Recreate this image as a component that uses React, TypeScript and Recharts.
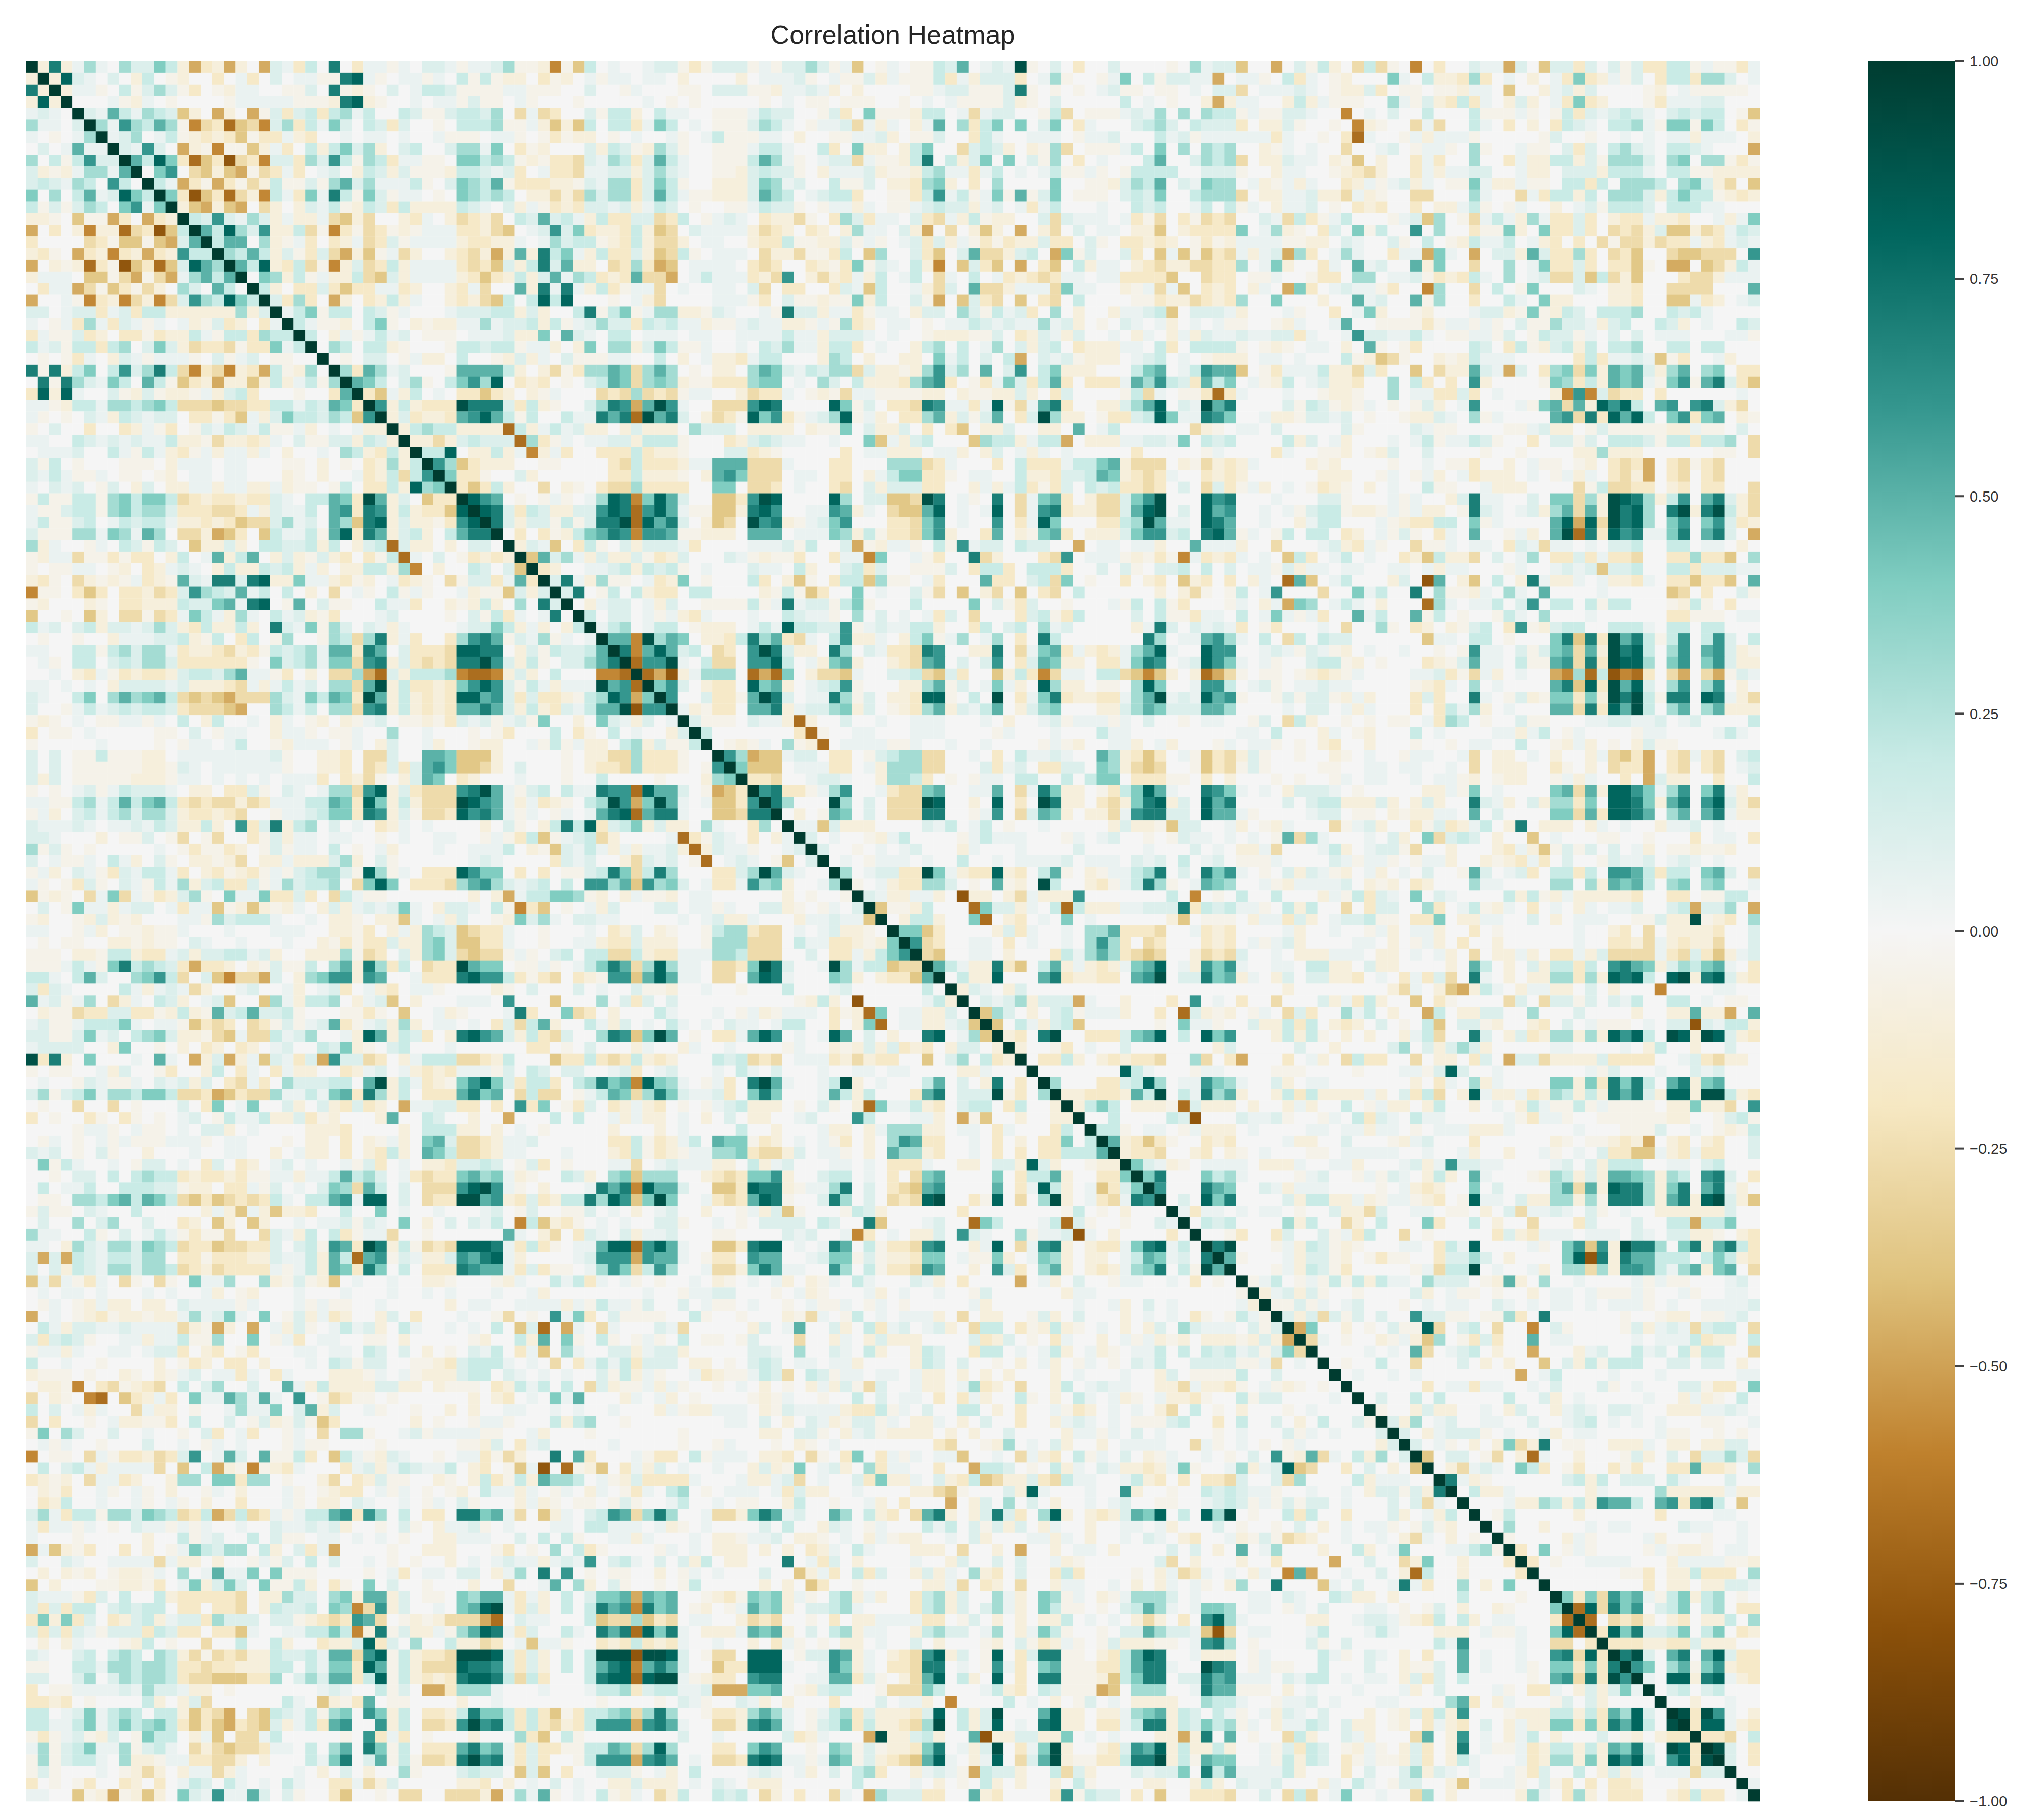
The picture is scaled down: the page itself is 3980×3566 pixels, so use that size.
import { ScatterChart, Scatter, XAxis, YAxis, ComposedChart, Bar } from "recharts";

// one letter per cell. only the upper triangle is listed, the matrix is symmetric
const LEVELS: Record<string, number> = {
  ".": 0, a: 0.05, b: 0.11, c: 0.19, d: 0.3, e: 0.4, f: 0.5, g: 0.6, h: 0.7, i: 0.8, j: 0.9, k: 1,
  z: -0.05, y: -0.1, x: -0.18, w: -0.27, v: -0.37, u: -0.47, t: -0.58, s: -0.68, r: -0.78, q: -0.9,
};

// rows 0-49, columns right of the diagonal up to 49
const triA = [
  "yhyada.dbbecyuxyuy.ubaxc.h.xaaza.bbazaabdzzytzvc.",
  "yiba.b.yc.zy..x.ax.b.aazzhiaz.aaza.czczyy.xzy.az",
  "yaaz.czbdbzx.zyaa..zzb.hzyz.b.accbzzzzaazzz..b.",
  "...azya.z....zaaaaazzzyhiyz..a.aazbzz.az...z..",
  "bafcadcbvy.uy.uzbxbcxcdac..cbzzbccbd.wawx..bz",
  "dagdcfdztwxsvwtbdxcaeb.cbxb..z.cccdzzayvyvc.",
  "abd.aczyxyxvzxxayx..a.aa.a..azzz.aaz.zxzyy.",
  "bagb.uyztzzvyax.cycebdy.bc..bddae.xzy...by",
  "fciexsvxrwxtbbxdbgczdcxaazz.eecdczyzxxwba",
  ".eg.wvyvuzwxax.ab.ycbybzzzyccbabx.axxwaa",
  "cauxzuxzwyczzbzdfbdaaacz.bedcfzxxxyyzba",
  "exrvxswytcaxeahczebzaa.z.edcdc.yywywdb",
  "yvuyvu.wy.ybaczycbxcyyyycba.byazxyxbb",
  "cbgbadbyayyawvyw..yxa.ywxyw.cbfbcayc",
  "fcidbgyycwztxzwxzyzaaaxxywv.abgbexy",
  "cff.dyzax.xyawxbzaaaayxxyya.adbccz",
  "dcfcybzxbwuyvzawy..yxwyuyfyhceayc",
  "fciyxcwztybwxcyaaaaxwxvbychbfyy.",
  ".edyczayycwvbyaaaayxvxycybfadcx",
  "cy.xxbxvxxaaxy..yxaw..fyhahayc",
  "bxdx.uy.xycya..yxywvc.cici...",
  "acezcc.cbza...abbbccyby..chz",
  "cazzy.cez.yzyyaadabbcyczabd",
  "c.yazacab.zzz.aaabyye.fba",
  ".dc.ccyz...zccbcczaay.ye.",
  ".z.bb.zayy.c..zybya.bzzz",
  "dxfdab...zffffcy.ywzxdd",
  "fec.bdz.cegdi.xyx.z.bc",
  "xvayc.a.xxvxy.yza...w",
  "gycyxxxjhhhbxcyz..bd",
  "ybxyyxfgifczc..caah",
  "ycdccyyyyscyacabyy",
  "yywybcbbbsdxza.aa",
  "cci.yycyatyax..x",
  "gdvxyyy..zz....",
  "exxz..by......",
  "xvxcy..w.yz.x",
  "igf.z.zaz.ad",
  "ihbxcbyybbg",
  "hbybbzczbh",
  ".x.xzycef",
  "ybav.xcz",
  "vfbdayb",
  "xy..aa",
  "bhayd",
  "bh.z",
  ".ya",
  "c.",
  "a",
  "",
];

// rows 0-49, columns 50-99
const blockAB = [
  "a..abbzxzbbbzazbbdbzav.za.zzcbf.abajz.b.x..b....z.",
  "aa.aa.y....y.aaabz.azzbyazzzcxaybbbx.adz..zae.czbb",
  ".za...zz.bbbzzyaabay.y....zzabbzzzbhz.z.z.abzz.zz.",
  "...a.z.z.....z.a.zz.zzz..z.a.azzzzbyz.b.....c.a.z.",
  "ccy.caa..zzzacbb..zbx.ezzzycc.awabb..zcw.zzzabad.d",
  "ccxaec.a.zzzbdca.zaabwaya.yaf.dxce.e.be.xa...bcdb.",
  "z.a..az.aczzzaa.y..zzaaby.zzb..xca..aaa.zaab...cab",
  "cbzydbz..zzzacca..cx.eyy.yce..wbcby.yzdw.zzzac.e.d",
  "dcxbfca..zzzcfdaz.abbwazzych.cybe.e.bzd.x.a...cf..",
  "bbybdba..zzybcbbz.yaaabyzzycdaaxac.a.aczzaz.zcccc.",
  "ddxbecz..yyybedab..czzb.yyxdey.x.d....e..zzybdcf.b",
  "ddxbfcazzyyybfdc.abccx..zzxcgaczaezfzbe.zzz.bcbe..",
  "abyacb.z..zzacbbz.zaaya.zzabcbbyab.axac...a..cbc..",
  "xxbbwxc.zaba.xyywz.xdbxaa.bxwayczyy..bwbaaa.axzw.x",
  "yxcyvw.baaaaywxy.xy.ydaa.byu.w.yvy.u.yw.b.aa.yyv.y",
  "yxcywwy.aa..yxxczzyybzaz.abxbyazxzxyybxx.bz.xxyxy.",
  "xxbyvwcz.aaa.wyywzzxc.vd..bxv.bfwwybc.uezb..bx.vav",
  "wxdxuv.aaaa.xwx..xyzxezba.cyt.vbxv.u.xv.cyaa.yxwyy",
  "yxfwwu.acaaaxywg.ywyxayc.ac.wa.c.axyxwxaa.aaxxxxv.",
  "xzaaw.a..aa.bw.xx..xbavc..aywb.fwwyaaaweaa..yzawav",
  "z.ayw....aaazx.bzzyzzeyc..bzu.vbxw.v.xw.c....zzxyy",
  "cezaddyyzba..azhbbyaaxzaa.ybb.dbzcabx.d.y..yaabcv.",
  "bbxcbcaayzzabaayyzazdxy.aa.z.aacbabaadaby.z.ba.ay.",
  "cc.aaa.aa..aaaacaaybbba.a..zyyyzzb.xybayb..a.ya.ya",
  "ddybeczza..a.cbdaayccx.a..ycd.c.ad.bybc.xyyyaa.cx.",
  "aa..c.y.ayyxacc...ydc.y..yy.eac.b.cu.babzyyy.abc.a",
  "fewdfd.z.yy.dfebacbddwbyyzydgbd.f.bg.ceyyy...cef.a",
  "fewdedyzzxxxdee.a.db.cyyyxdfgx.zxaebxcfx.xxxafdgcb",
  "xwdwxwzaa..ywxxa.zyzwaazzzzyy.yzzyyby.xb....zcwa.z",
  "hgufjga..wwwgih....iezb.xxwhgaaxaizwafhx..yybdfi.b",
  "fhsjfhb.ywxziegxzabdizay.xxdfybzbf.xbjdyy.zxxbciea",
  ".ybyyy.dbbb.yyyy.yzze.byyb.x.xv.yyb..yy.f.ac......",
  "bbycccz...xybcbaa..a..evaybc...vdccyaccu.yyyaabbae",
  "xxcxyyz...bbxyz.....x.aayyy.aay.yb.aya.a.....x....",
  "xwcxxxyaafffwwwa...xx...dddwxa...x.cxxxaccefywww.y",
  "xxcyyyz.yfgewww.aa.xx.yaceexxz.aa..cyyxbbcfeyxwxa.",
  "wwdxxxx..ee.wwx.a..xw.bybbbxx..yayacxzxb.cbcxxwx.b",
  "ihteifb..vvxgji....id.bbvvwjh.az.h.waefx.ywwbegj..",
  "ihsgifazzvvyhig..aagfya.wvvfi.a.ai.waghxyywwbfij.b",
  "hjsifhb.yvw.jghyzabeg...xxweg.a..g.xaie...xxcdjfaa",
  "hgtggfzzyyy.fff.aaaedyczxxwegy..xf.yzefx.yyybeggbc",
  ".bybbbax....aaabzc..buzyaaz.czgabb.cbb..u.aa.aay..",
  "yybzxyb...bazyzzx..xaate..azx..hwy...xwg.aaazyzxzt",
  "bcycbcz.a...baa.cy..bcxb..zzzb.xccx.cccx..b.bz.bbc",
  "zz.axye.z...cx.yvz.xccvdzz.ax...fxx.bcwe.z..x.yx.v",
  "c.cyxx.cc....yzczvx..e.a..bzw.v.yw.v.xw.c......y.y",
  "bb.ayb..zzzzczahabbzcez...c....e.bzxb..z...azc.czx",
  "bb.azayxa...a..cbaaz.d.b.a.axb.w...xbczxc....b.czz",
  "cd.acc.zyyy.acaiccbbgzabaaccy..xc.bc.dab.....yahb.",
  "fftjdfe.yyxchdfxwa.cgyya.ycezad.ad.x.hc.......hd.a",
];

// rows 0-49, columns 100-148
const blockAC = [
  "dabbv..u.bzcy.wcwz.t.x..baaub.vbbxb.bzbxxcczazzxa",
  "aau.aaz.cxa.zy...ea.cyyxdx.a.y.axexyazb.xccxddb.a",
  "a.bbw.aaaba.zyybx.zz.zzyaa.v..yabyb....zy.azzzzz.",
  ".yuyaa..ycyazzz..dazbyxcxa.yby.axexy...zxaaabb...",
  ".dcczazzbba..t.a.b..c...czzzaz.zcxbabcba.bcbcc.zv",
  "cbbbx.yybz..z.tyz..waw..ca.x.y.xcba.ccdazeezec.xz",
  "zaaaaaaxa..z.xsa..zayaaaz.....zb..z..a.a.aayaaa.y",
  ".dcd..yza.a..w..ab.zaaz.dz..azz.bxb.cdba.ccba...u",
  "bdcdw.yybaa.yzv.y..xax..d..xayyccybzdddb.de.ddzxz",
  ".bbbz..yaa..zyxwy..xayaabb..ayy.bbbyccca.cczzyyyy",
  "aedd.ayzaya..xyazabya.zzeayyazz.ccxc.dddc.debyw.v",
  "cdddw.yyaabyywayz..ww...da..waxccyc.dddbycecczyxy",
  "ac.cza.yaab.z.xyx..x.yyacz.za..y.abzcccb.cccaa...",
  "zwxw..bawcxzac...zabvd.zwacaydaxxbx.yxxayyx..ayae",
  "xxxxe.adyz.xb.ezc..g.d..xzzey.exxbx.wxwybvvywxacb",
  "zxzyaaaazzyy.ba..bz.c.zycaac.ayx.x.wzwwywxxayxaba",
  "zvxwayabudx.ada..xaauea.u.bbyfbxxdx.wxv..wvvwww.g",
  "wwxxd.aey..xa.fab..fye..w..d.aexxbx.xxvz.uu.vwyca",
  ".wxx.zza..zxx.dd.aabzxyxca.d.abwwbvcwyv...xwwyaaa",
  ".xyx.ya.uex.abaazx..td..w.c.ze...ba.yyx..wwww...f",
  "wxyxd..e...y..fab..fzd..x..ca.eyy...yyx..vvaxy.ab",
  "bbbay...az..x.aey..zy...abbyzezycb.cccd..cbca....",
  "a.azz..zya..af..zzzzxzaazaz.bzzdbbaybc..cby.a..cb",
  "ybaabaabbxa..agbbaaca.zzaazb.zcbbza.b.b.aaa...aaz",
  "ccccz.zyz.aa.y.fz.zx....cb.xczybcyc.ccd..cc.cc...",
  ".zyyy.aa.a...czyvwz..yzycaaa.....xcxaabavzx..ay..",
  "cgffv.zxaaacyywbx..v.wyyfbaub.xdeweyfefbydf.de.xx",
  "xfce.azyc.abyyx..d.cx.x.gy....zedxcyfefazegzfhbxv",
  "zxsxa...a..zyyz..d.aaxxbx.a....ytgtbwxx.x......a.",
  "ajfh....bzcbzyza.z.zby.ag...azefwfyigic.fg.ghbyw",
  "ahge..ayyzbbab.z..zyyba.dza....fgwhxific.egxef.yz",
  "wyz.aa.b.....bz....bazz....zzabyy.zbzzzzzyyazz.b.",
  ".cbc....cyb.ay...a.aczaacbz..x.bbzb.cccbzccxccd.w",
  ".za....xa..zzy.zyb..b....z..z....yydyyy......zz.w",
  "zwyxya....yzy....z..a.zzx..y.azz.zy.xwxu.xwzxw...",
  ".xyxy......yyy..za.zay.axyyy.a.zaya.xwyu.xw.xw...",
  ".wbxzay.a.zxyz.y.a..czz..ayyy....wzcwwxx.yx.xx..w",
  ".igh...a...bbz...aza..ybhaa..b.eewdyjihdycg.fhbyw",
  ".ifg..a.azbcczyyzazayy.zhba.abydfwfyjhid.hjyhjcyw",
  ".ihf..a..yacc...azyxxcc.eza....fiuiwjhid.eg.egbxy",
  ".hifza.zc.cc.xy.azbz.xa.f..zay.fjshxighaaeh.fhb.u",
  "faaay..w...abyxaz..wzza.aa.xbawaa.a.bbc..cc.aa.y.",
  "axyxa.a.vcx.ac.a..xyvcyyw.b.ad.xxbxaxxw..xxdxxv.d",
  ".c.b.aazbyaa.aa..aa.ayaa...za..ababvbbc..ccxbbbaa",
  "yx.x.ya.sfv.ac...yb.rf.yv.c.yhayya.ayyxa.xxvxxv.f",
  "wz.zc.ag...w..eac..h.dzzya.da.f....a.....vw.x..bz",
  "...za.yaued.aca.y...sda.aac.bg.cc.czcc...zycz.x..",
  "xaa.c.aeazax..fac..fzc.z..zca.d...a......xxzzz.aa",
  "babax.zx...a.w..dz.xy.yzbc.xgzybcc..ccca.cc.cc...",
  "afgda.c.wc.cbb......vaa.cc.z...ehvhxjfhczcg.cgb.c",
];

// rows 50-99, columns right of the diagonal up to 99
const triB = [
  "htfifbc.wx.gjhbyy.hd.baxxwhg..yyh.waefxayxyadfia.",
  "sggja.cww.ggic.ayefy..yxwfg.b.bg.xbfeyy.xxaehg.a",
  "suryaddd.suse.ywwva..bbcwvbx..vycxtwaa.ccwvtvy.",
  "egb.yxx.iefy.abcgz...yydfzb.aeay.idyy.zz.die..",
  "g..bxxzfjhb.aahdzb.yyxiiz.c.j.xaehxyyxxadfjab",
  "ayzxx.ffhyabbdeyb.zyxdfybacf.ybde...yybdfebb",
  "bzzz.baaysy..b..a..aaa...a.y..abzaaaza.b..z",
  "c.......xsz..aa...aaa....za...a...caa.....",
  ".zyza.dzys.aaaazza..a..a....zazy..aay.ay.",
  "gduvvabb.xx.zbcddww..a.x.caaba..fdyxvx.a",
  "evvv.aaaxx.aydddww...bxab.xxbb.edywvw..",
  "xxw..abba..yddcx.z.zaa.cc..c.cee.xxxzz",
  "ghxxzadg..axwwef..aaf.waheyy.zxceifa.",
  "hd...jd.b.wwwji..y.i.x.jhyy.xwyehiyb",
  ".y.zfe.b.wwwhh..zag.wbfey.yywaghhbb",
  "aavbyyy....bac.ac.z..a.....ybyyzvb",
  "b.a..zyac....zacaaa...za.ab..z.zb",
  "b..z.a.ab...ya...a....b.....a...",
  ".a.zaaa.a..c..a.aaaab.aaa.bab.c",
  "d.abbxxjeayxxiyx.cfz.yzaacdh.b",
  "z.ayxxddb.z.fzy.jc..yxzachdz.",
  "bayyaay.ryy.ywayyyg.......c.",
  "vzzyc...sebbya.cscyyyaabbbh",
  ".yccy..es.yx.a.e.a......yv",
  "eevx....ybxa..a.ddfxxxw..",
  "gwx..aa.x.a..a.dgdx.wx..",
  "wv..aa.y...xcadfdxwvw..",
  "fcayyhxv.cfyayxyaefi.a",
  ".cyyi...fhxyyxx.fgj.b",
  "yba.yb..............",
  ".babdybbbua..y...x.",
  "vdb.y.bczaaay..x.s",
  "v.caybcv......z.e",
  "yx.hj..xxxbefi.c",
  "y..zx.a..b.....",
  ".xxcy.yxyxxw..",
  ".......ica...",
  "d...xxbcid.a",
  "yyxxxyfcj.c",
  "ycec.yyyzs",
  "..c....cb",
  "ccz.aa.z",
  "fyxvxz.",
  "yxxw..",
  "ebayz",
  "eh..",
  "g..",
  ".b",
  "a",
  "",
];

// rows 50-99, columns 100-148
const blockBC = [
  ".igg..abazbazy.a..a..z.zgaa.bzbefwfyjhic.dg.fgbyz",
  "bigea.az..bcczy.z...xyzbfaa.czzfgwhxjiid.eg.egbyy",
  "ysuwz.zz.zyxyza....aabxzway.a..utdscrtsx.wu.wuzba",
  "aggc.abz.aabaa.....zyxa.d.a....fhvixjfib.dg.dg.y.",
  "aifgz..zbzbbzyay...xbx..ha.zbyzeexeyjhjczhh.ihayw",
  "bffd....a.bb.aya...x.xcady.a...ffwhxifjc.df.dfyyy",
  ".aa..zb.wcy..z.z.zz.axdc.z..bzz...aabbaab.ab....c",
  "....aa.c...ya.zy...c.a....aayac.za....zaa....aca.",
  "..za.aaz.z.yx..y...z..z.aa..c..zyay.z.ybzz.......",
  "zvxwybz..z..yz.a..zaa..aw.yy.a.y..yawvxu.xwaxw.bc",
  "zvxwzbz....zz..aa.aa..a.w.yyy..xz.y.wxxu.xw.xw.ab",
  ".x.y...z.z..za.aa..a.aazy.zyy..zaya..x.ubyy..x..c",
  ".hgea.a.ybbba.z.....yyaze.a....efwfyiigeadg.ehay.",
  ".ifh....b.bccyyyby.yby..hbay.byddxe.iiheyfh.gibyw",
  ".iffaz....abb.zz.yzyyaa.f.b....eewfxiihf.df.fhayy",
  "b..ay.zya...wzaby..xzbxyac.yh.yyy.ya.a..yaab.a...",
  "aa.a.a.zfwda...a.by.ewbcb.y..v.a...zz..z...x.aa.x",
  "b.a.yyaw...acy.abbzw..y...yxayvzbzb.b.ay.zzyzzy..",
  ".ab.zzza....bazaaz.zaay..yzyxax.b..zbaab.aba.a...",
  ".hega.z.bybazy.ay.a.b..zfb.abx.ccxc.ggfcxcc.efb.w",
  "afed..azyaaaab.yzy.xy...daa....dd.dyfefc.de.de..a",
  "t.z.c..c...yazcxba.e.ba....cyczyayyyyyx..xx.zzcc.",
  "xcbcaaz.cyc..w.xbb..dx.aczya.x.a.ya.aab..bcubbd.u",
  ".zzz.yaaxby.abbczz.xxe.yyaa..b.y.aaa..zzbyyjzyx.d",
  "axyx....ay..a..zay.aay..x.z......a..yx.w.yyyyx..b",
  ".xyx.azaby....aa.y.zay.x..y......a..xxywayxyyw..b",
  "ywxwb..a.yyyaaa.yy.a.ay.w.yyay.xxaybwwwwaxwbxvyab",
  "ygega..aa.ccyy.byy....y.fc.y.byccxc.ghfeybdcefa.x",
  "bhefya.yb.bbyyx.a.xaxbw.ha.y.yyddxdyihic.ijyhibyx",
  "........y........ywa.yvuyca.yaayy.b.y...t....aa..",
  "g.a.x..w...byaxcy..v.xz....wb.wbbzb.bac..cc.a.zz.",
  "byzy.za.wbx..dac.y..uc.yybb..d...b....y..yyfyyu.f",
  "aaz..byycxc.yxy.b.z.cv.bbzy..yx.b.azzz.a.bbrbaccy",
  ".ieg...ycycz.y.y..yacw..hb.ybxyddydyigic.jiyjibyx",
  "..yb.....b..y....bd.bybdby.....aa....a.yc..y..b..",
  "dw.xu...x.ay.wcxx..w.yy.xb.ubbwyyyybxxxx..abxwyy.",
  "zaa....zzz....z...aazbib..a.......azb...a..bab...",
  "ageda..by.aa.......y.xa.dya....eeyexhehc.fhyef...",
  "ahdfy..ycxcyyyyay.bxcw.yiayyaxydcycyhfhbyiiyjjcyx",
  "byyy.y..yay..c.zayy.yc..y.a.ycazzczazzzz.yyeyyw.g",
  "r...baabz..za.cxba.caa.....azxaaz..zzzzzzyy..zbcz",
  "ayyy.a....aa.aayaa.z.aaayyya.....a...zzzb..a.zyzc",
  ".xyx....ayy..b...zyab...x......yz.zzyxyu.yx.yx..b",
  "yx.yz.a...zz.aaaaa..a..ay..y..az.a.bxxvvayxaxx..b",
  ".aaaa.yyya..aay...abyagbbaa....ab.byccc..aa.bc...",
  ".ecda....zab..zazba.ycy.fa...zydcybyffedydc.ghb.x",
  ".hfe..bayaaa....z.ayxy..e.b....dfwfyihhdyeh.fhay.",
  ".ieh....byccyyayzaazyx.ziaa.byyddydzhhhdyfhyijbyv",
  "xaa.a.aa.z..byywb..aa.zz.y.bwaaba.bz.a..yyyyyyb..",
  ".cbc....dyc..wy.c...ex..c.y..w...xb...b..ccucce..",
];

// rows 100-148, columns right of the diagonal up to 148
const triC = [
  "..zx..xb..bzaxc..w.z.....xbyxaaa.aaa.ba.bbyyz.yx",
  "hj...zaycbzyz...aa.xcai....az.egvgyjhhd.ehyfhcx",
  "fz...aybbzy.zxzz..xbbdb.y....eirhyhffccc.cecyx",
  "...zaycbzx.....zawccj.a..ay.ddwdyggfcadfyef.w",
  "zac.zazczcycaa.dbbb.zyfy.d..a....azazz...ab.",
  "yabybz..z....by.azz.z..y.aa.azzzaz..az..aa.",
  "zzbza.ab...z.a.aa..ba.a.aa.a.aaaz.a..aaaab",
  "bybwbzb.b..gbbzz.zzdx.h......z..zyy.zzab.",
  "ue..y.z.bzziw.bc.w..t.bz....zbyabawbcc.w",
  "wa.z..yzayvd.zxbx..f.aa.....a.aaacxyy.c",
  "....a.a.fw.abc.y..u...yab..cab.cycc..w",
  ".z..c..w...b.y.y..v.byczccc..bb.bb.y.",
  ".a..a.a........u.ac....a...a......aa",
  "......x.aaxaa..a.b...bz.a...bbzxx.e",
  ".b..c.c.....c..by.a.....a..yayz.c.",
  "z..ybyy..a.yb..yaba.bba..yyyaaba.",
  "byd.ab..aa..b..abc.a.a.a...zz..a",
  "b.yabbbz.a..ay.aa.....azz..z.z.",
  "b.az.y.yewyh.zz..yyya.yy.yybb.",
  "v.bb.zw.ysa..y...zby.b.wbbdbw",
  ".ywaba.ecx.zx..xzx..xxfxxy.d",
  "hayz......bcyc.bbb.ca...b..",
  ".cyya......ya....dyyyyyayy",
  "...ayydcycygffc.fgxghc.v",
  ".zc.....y......x....aa..",
  ".d..y...a.aa....baa..a.",
  "z....yaz....ay...z..a.",
  "x.e.zaz....zazyyz.aa.",
  "x.z..aaaa...yaaaazzy",
  ".......zzx.yycxxx.d",
  "........x.yy.yybba",
  "exewgefazceycd.z.",
  "siwheg.bce.cd.xx",
  "s.wxwy.yx.yyc.d",
  "xiehbbce.ce.xy",
  "xxxyyxxbyyy..",
  "hjb.fh.fibxx",
  "ge.dfzegyxx",
  "a.iiyhiayx",
  ".bc.bc...",
  "..y..a..",
  "jxjga.y",
  "xiiayx",
  "xxw.c",
  "jb.x",
  "b.x",
  "..",
  "a",
  "",
];

const colorStops = ["#003c30", "#01665e", "#35978f", "#80cdc1", "#c7eae5", "#f5f5f5", "#f6e8c3", "#dfc27d", "#bf812d", "#8c510a", "#543005"];
const colorTicks = [-1, -0.75, -0.5, -0.25, 0, 0.25, 0.5, 0.75, 1];
const N = 149;

const hex = (h: string) => [1, 3, 5].map((k) => parseInt(h.slice(k, k + 2), 16));
function colorOf(v: number) {
  const p = ((1 - v) / 2) * (colorStops.length - 1);
  const k = Math.min(Math.floor(p), colorStops.length - 2);
  const a = hex(colorStops[k]);
  const b = hex(colorStops[k + 1]);
  const t = p - k;
  return `rgb(${a.map((c, n) => Math.round(c + (b[n] - c) * t)).join(",")})`;
}

// r < c always
function upper(r: number, c: number) {
  let ch: string | undefined;
  if (r < 50) {
    if (c < 50) ch = triA[r][c - r - 1];
    else if (c < 100) ch = blockAB[r][c - 50];
    else ch = blockAC[r][c - 100];
  } else if (r < 100) {
    if (c < 100) ch = triB[r - 50][c - r - 1];
    else ch = blockBC[r - 50][c - 100];
  } else {
    ch = triC[r - 100][c - r - 1];
  }
  return LEVELS[ch as string] ?? 0;
}

const cells: { col: number; row: number; v: number }[] = [];
for (let row = 0; row < N; row++) {
  for (let col = 0; col < N; col++) {
    const v = row === col ? 1 : upper(Math.min(row, col), Math.max(row, col));
    cells.push({ col: col + 0.5, row: row + 0.5, v });
  }
}

const CELL_W = 3397 / N;
const CELL_H = 3409 / N;
const Cell = (p: any) => (
  <rect x={p.cx - CELL_W / 2} y={p.cy - CELL_H / 2} width={CELL_W + 0.3} height={CELL_H + 0.3} fill={colorOf(p.payload.v)} />
);
const fmt = (v: number) => (v < 0 ? "\u2212" : "") + Math.abs(v).toFixed(2);

export default function App() {
  return (
    <div style={{ position: "absolute", left: 0, top: 0, width: 3980, height: 3566, background: "#fff", overflow: "hidden", fontFamily: "'Liberation Sans', Arial, sans-serif" }}>
      <div style={{ position: "absolute", left: 51, width: 3397, top: 40, lineHeight: "56px", fontSize: 52, textAlign: "center", color: "#262626" }}>Correlation Heatmap</div>
      <div style={{ position: "absolute", left: 0, top: 0 }}>
        <ScatterChart width={3980} height={3566} margin={{ left: 51, top: 120, right: 532, bottom: 37 }}>
          <XAxis type="number" dataKey="col" domain={[0, N]} hide />
          <YAxis type="number" dataKey="row" domain={[0, N]} reversed hide />
          <Scatter data={cells} shape={Cell} isAnimationActive={false} />
        </ScatterChart>
      </div>
      <div style={{ position: "absolute", left: 3660, top: 0 }}>
        <ComposedChart width={320} height={3566} data={[{ name: "bar", range: [-1, 1] }]} margin={{ left: 0, top: 120, right: 0, bottom: 37 }} barCategoryGap={0}>
          <defs>
            <linearGradient id="brbg" x1="0" y1="0" x2="0" y2="1">
              {colorStops.map((c, i) => <stop key={c} offset={`${i * 10}%`} stopColor={c} />)}
            </linearGradient>
          </defs>
          <XAxis dataKey="name" hide />
          <YAxis orientation="right" width={149} type="number" domain={[-1, 1]} ticks={colorTicks} interval={0} tickFormatter={fmt} axisLine={false} tickSize={17} tickMargin={12} tickLine={{ stroke: "#444", strokeWidth: 4 }} tick={{ fill: "#333", fontSize: 29 }} />
          <Bar dataKey="range" fill="url(#brbg)" isAnimationActive={false} />
        </ComposedChart>
      </div>
    </div>
  );
}
